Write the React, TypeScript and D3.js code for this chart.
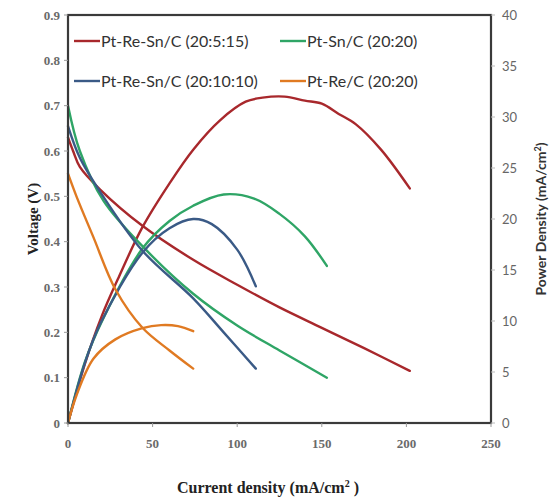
import React from 'react';
import * as d3 from 'd3';

// current density (mA/cm2) vs voltage (V) / power density
const redV = [[0, 0.63], [3, 0.6], [7, 0.565], [19, 0.515], [44, 0.435], [74, 0.36], [100, 0.305], [125, 0.255], [150, 0.21], [175, 0.165], [202, 0.115]];
const greenV = [[0, 0.7], [7, 0.6], [21, 0.49], [44, 0.39], [74, 0.285], [100, 0.215], [125, 0.16], [153, 0.1]];
const blueV = [[0, 0.655], [7, 0.585], [19, 0.51], [44, 0.38], [74, 0.275], [92, 0.2], [111, 0.12]];
const orangeV = [[0, 0.55], [5, 0.5], [15, 0.41], [28, 0.295], [44, 0.21], [60, 0.16], [74, 0.12]];

const redP = [[0, 0], [10, 5.8], [20, 10.5], [30, 14.3], [44, 19.2], [60, 23.5], [74, 26.8], [90, 29.7], [105, 31.5], [115, 31.9], [128, 32], [140, 31.6], [150, 31.3], [160, 30.3], [170, 29.3], [185, 26.8], [202, 23]];
const greenP = [[0, 0], [10, 6], [21, 10.3], [44, 17.1], [60, 19.8], [74, 21.3], [92, 22.4], [110, 22], [125, 20.5], [140, 18.3], [153, 15.4]];
const blueP = [[0, 0], [10, 5.9], [19, 9.7], [44, 16.7], [60, 19.1], [74, 20], [85, 19.5], [100, 17], [111, 13.4]];
const orangeP = [[0, 0], [5, 2.7], [15, 6.3], [28, 8.2], [44, 9.3], [55, 9.6], [65, 9.5], [74, 9.0]];

const xTicks = [0, 50, 100, 150, 200, 250];
const vTicks = [0, 0.1, 0.2, 0.3, 0.4, 0.5, 0.6, 0.7, 0.8, 0.9];
const pTicks = [0, 5, 10, 15, 20, 25, 30, 35, 40];

const series = [
  { name: 'Pt-Re-Sn/C (20:5:15)', color: '#a8282c', v: redV, p: redP },
  { name: 'Pt-Sn/C (20:20)', color: '#2fa566', v: greenV, p: greenP },
  { name: 'Pt-Re-Sn/C (20:10:10)', color: '#3a5a86', v: blueV, p: blueP },
  { name: 'Pt-Re/C (20:20)', color: '#e07a22', v: orangeV, p: orangeP },
];

const W = 549;
const H = 497;
const m = { left: 68, right: 491, top: 15, bottom: 423 };

export default function App() {
  const x = d3.scaleLinear().domain([0, 250]).range([m.left, m.right]);
  const yV = d3.scaleLinear().domain([0, 0.9]).range([m.bottom, m.top]);
  const yP = d3.scaleLinear().domain([0, 40]).range([m.bottom, m.top]);

  const lineV = d3.line<number[]>().x(d => x(d[0])).y(d => yV(d[1])).curve(d3.curveCatmullRom.alpha(0.5));
  const lineP = d3.line<number[]>().x(d => x(d[0])).y(d => yP(d[1])).curve(d3.curveCatmullRom.alpha(0.5));

  const serif = '"Liberation Serif", "Times New Roman", serif';
  const sans = 'Lato, "Open Sans", sans-serif';

  return (
    <svg width={W} height={H} style={{ position: 'absolute', left: 0, top: 0, background: '#fff' }}>
      {/* curves */}
      {series.map(s => (
        <g key={s.name} fill="none" stroke={s.color} strokeWidth={2.4} strokeLinecap="round">
          <path d={lineV(s.v) || ''} />
          <path d={lineP(s.p) || ''} />
        </g>
      ))}

      {/* frame */}
      <rect x={m.left} y={m.top} width={m.right - m.left} height={m.bottom - m.top}
        fill="none" stroke="#3a3a3a" strokeWidth={2.2} />

      {/* left axis */}
      {vTicks.map(t => (
        <g key={'v' + t}>
          <line x1={m.left - 4} x2={m.left} y1={yV(t)} y2={yV(t)} stroke="#999" />
          <text x={m.left - 8} y={yV(t)} dy="0.35em" textAnchor="end" fontFamily={serif}
            fontSize={13} fontWeight="bold" fill="#6a6a6a">{t === 0 ? '0' : t.toFixed(1)}</text>
        </g>
      ))}

      {/* bottom axis */}
      {xTicks.map(t => (
        <g key={'x' + t}>
          <line x1={x(t)} x2={x(t)} y1={m.bottom} y2={m.bottom + 4} stroke="#999" />
          <text x={x(t)} y={m.bottom + 25} textAnchor="middle" fontFamily={serif}
            fontSize={13} fontWeight="bold" fill="#6a6a6a">{t}</text>
        </g>
      ))}

      {/* right axis */}
      {pTicks.map(t => (
        <g key={'p' + t}>
          <line x1={m.right} x2={m.right + 4} y1={yP(t)} y2={yP(t)} stroke="#bbb" />
          <text x={m.right + 11} y={yP(t)} dy="0.35em" textAnchor="start" fontFamily={sans}
            fontSize={13} fill="#666">{t}</text>
        </g>
      ))}

      {/* axis titles */}
      <text transform={`translate(38,${(m.top + m.bottom) / 2}) rotate(-90)`} textAnchor="middle"
        fontFamily={serif} fontSize={15} fontWeight="bold" fill="#222">Voltage (V)</text>
      <text transform={`translate(546,${(m.top + m.bottom) / 2}) rotate(-90)`} textAnchor="middle"
        fontFamily={sans} fontSize={14} fontWeight="bold" fill="#333">
        Power Density (mA/cm<tspan dy={-5} fontSize={9}>2</tspan><tspan dy={5}>)</tspan>
      </text>
      <text x={268} y={493} textAnchor="middle" fontFamily={serif} fontSize={16}
        fontWeight="bold" fill="#222">
        Current density (mA/cm<tspan dy={-6} fontSize={10}>2</tspan><tspan dy={6}> )</tspan>
      </text>

      {/* legend */}
      {series.map((s, i) => {
        const lx = i % 2 === 0 ? 74 : 280;
        const ly = i < 2 ? 41 : 81;
        return (
          <g key={'lg' + s.name}>
            <line x1={lx} x2={lx + 26} y1={ly} y2={ly} stroke={s.color} strokeWidth={2.4} />
            <text x={lx + 27} y={ly} dy="0.35em" fontFamily={sans} fontSize={16} fill="#333">{s.name}</text>
          </g>
        );
      })}
    </svg>
  );
}
